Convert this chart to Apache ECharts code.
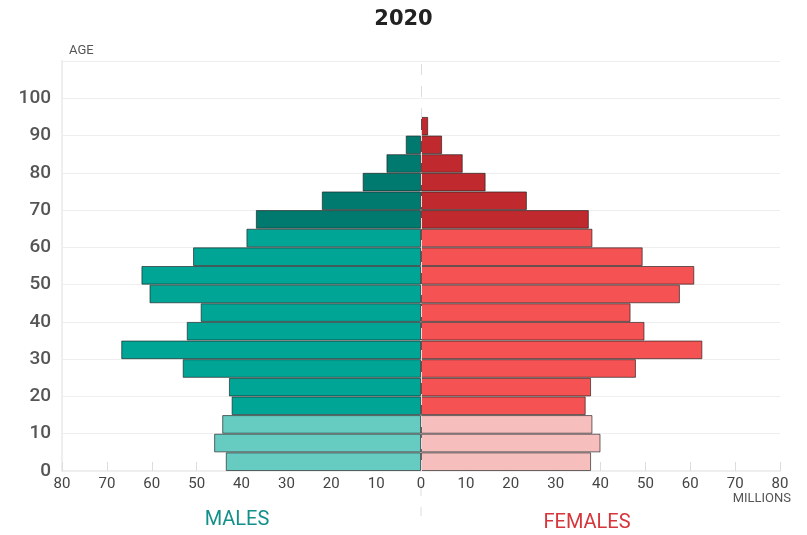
<!DOCTYPE html>
<html>
<head>
<meta charset="utf-8">
<script src="https://cdn.jsdelivr.net/npm/echarts@6/dist/echarts.min.js"></script>
<style>
html,body{margin:0;padding:0;background:#fff;}
#c{width:807px;height:535px;}
</style>
</head>
<body>
<div id="c"></div>
<script>
// Age groups (5-year bins)
const ageGroups = ['0-4','5-9','10-14','15-19','20-24','25-29','30-34','35-39','40-44','45-49','50-54','55-59','60-64','65-69','70-74','75-79','80-84','85-89','90-94','95-99','100-104','105-109'];
// Population in millions
const males   = [43.5, 46.1, 44.3, 42.2, 42.8, 53.1, 66.8, 52.2, 49.1, 60.5, 62.3, 50.8, 38.9, 36.8, 22.1, 13.0, 7.7, 3.4, 0, 0, 0, 0];
const females = [37.9, 40.0, 38.2, 36.7, 37.9, 47.9, 62.7, 49.8, 46.7, 57.7, 60.9, 49.4, 38.2, 37.4, 23.6, 14.4, 9.3, 4.7, 1.6, 0, 0, 0];
const xTicks = [-80,-70,-60,-50,-40,-30,-20,-10,0,10,20,30,40,50,60,70,80];
const yTicks = [0,10,20,30,40,50,60,70,80,90,100];
const yearTitle = '2020';

const maleColors   = {young:'#66CBC1', work:'#00A596', old:'#007A6F'};
const femaleColors = {young:'#F7BEBE', work:'#F45253', old:'#C0292D'};
function band(i){ return i < 3 ? 'young' : (i < 13 ? 'work' : 'old'); }

const chart = echarts.init(document.getElementById('c'), null, {renderer:'canvas'});
const border = 'rgba(30,30,30,0.65)';

const option = {
  animation:false,
  backgroundColor:'#fff',
  title:{
    text: yearTitle, left: 'center', top: 4,
    textStyle:{fontFamily:'DejaVu Sans', fontSize:21, fontWeight:'bold', color:'#222'}
  },
  grid:{left:62, right:27, top:61, bottom:64, containLabel:false},
  xAxis:{
    type:'value', min:-80, max:80, interval:10,
    axisLine:{show:true, lineStyle:{color:'#eeeeee', width:2}},
    axisTick:{show:true, inside:true, length:9, lineStyle:{color:'#dddddd', width:1}},
    splitLine:{show:false},
    axisLabel:{
      margin:6, fontFamily:'Roboto', fontSize:15, color:'#444',
      formatter: v => xTicks.indexOf(v) >= 0 ? String(Math.abs(v)) : ''
    }
  },
  yAxis:[
    {
      type:'category', data:ageGroups, show:false, boundaryGap:true
    },
    {
      type:'value', min:0, max:110, interval:10, position:'left',
      axisLine:{show:true, lineStyle:{color:'#eeeeee', width:2}},
      axisTick:{show:false},
      splitLine:{show:true, lineStyle:{color:'#eeeeee', width:1}},
      axisLabel:{
        margin:11, fontFamily:'Roboto', fontSize:19, fontWeight:500, color:'#555',
        formatter: v => yTicks.indexOf(v) >= 0 ? String(v) : ''
      }
    }
  ],
  series:[
    {
      name:'centre', type:'line', data:[], yAxisIndex:1, z:1,
      markLine:{
        silent:true, symbol:'none', label:{show:false},
        lineStyle:{color:'#dddddd', type:[11,11], width:1},
        data:[{xAxis:0}]
      }
    },
    {
      name:'Males', type:'bar', stack:'pop', yAxisIndex:0, z:3,
      barCategoryGap:'0%',
      data: males.map(v => v === 0 ? '-' : -v),
      itemStyle:{
        color: p => maleColors[band(p.dataIndex)],
        borderColor:border, borderWidth:1
      }
    },
    {
      name:'Females', type:'bar', stack:'pop', yAxisIndex:0, z:3,
      barCategoryGap:'0%',
      data: females.map(v => v === 0 ? '-' : v),
      itemStyle:{
        color: p => femaleColors[band(p.dataIndex)],
        borderColor:border, borderWidth:1
      }
    }
  ]
};
chart.setOption(option);

// decorative labels and dashed continuation positioned from the axis scale
const x0 = chart.convertToPixel({xAxisIndex:0}, 0);
const xMale = chart.convertToPixel({xAxisIndex:0}, -41);
const xFemale = chart.convertToPixel({xAxisIndex:0}, 37);
chart.setOption({
  graphic:[
    {type:'text', left:69, top:44, style:{text:'AGE', font:'13px Roboto', fill:'#555'}},
    {type:'text', right:16, top:492, style:{text:'MILLIONS', font:'13px Roboto', fill:'#555'}},
    {type:'text', x:xMale, y:520, style:{text:'MALES', font:'20px Roboto', fill:'#14908A', textAlign:'center', textVerticalAlign:'middle'}},
    {type:'text', x:xFemale, y:523, style:{text:'FEMALES', font:'20px Roboto', fill:'#D5353B', textAlign:'center', textVerticalAlign:'middle'}},
    {type:'line', shape:{x1:x0, y1:485, x2:x0, y2:516}, style:{stroke:'#dddddd', lineWidth:1, lineDash:[11,11]}}
  ]
});
</script>
</body>
</html>
